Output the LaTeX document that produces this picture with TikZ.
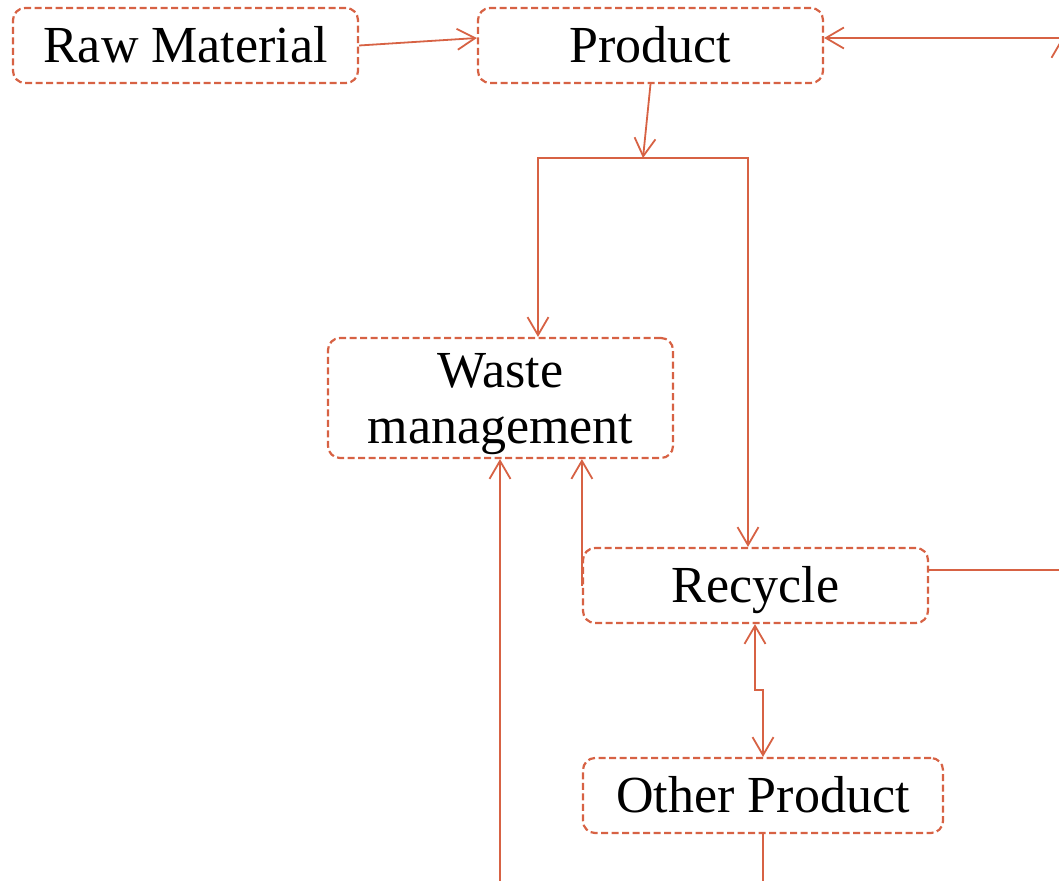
\documentclass[tikz,border=0pt]{standalone}
\usepackage{fontspec}
\setmainfont{Liberation Serif}
\usetikzlibrary{arrows.meta,calc}
\definecolor{flow}{RGB}{215,98,68}
\tikzset{
  stagebox/.style={draw=flow, line width=2.2pt, dash pattern=on 7pt off 3.5pt,
    rounded corners=12pt, inner sep=0pt, minimum height=75pt, minimum width=345pt,
    text height=34pt, text depth=0pt, font=\fontsize{52}{56}\selectfont},
  barb/.tip={Straight Barb[length=18pt,width=21pt,line width=1.8pt]},
  link/.style={draw=flow, line width=1.8pt, -barb},
  plain/.style={draw=flow, line width=1.8pt},
}
\begin{document}
\begin{tikzpicture}[x=1pt,y=-1pt]
  \useasboundingbox (0,0) rectangle (1059,880);
  \clip (0,0) rectangle (1059,880);

  % stages
  \node[stagebox] (raw)   at (185.5,45.5)  {Raw Material};
  \node[stagebox] (prod)  at (650.5,45.5)  {Product};
  \node[stagebox, minimum height=120pt, text height=34pt, text depth=56pt] (waste) at (500.5,398)
      {\vtop{\baselineskip=56pt\halign{\hfil#\hfil\cr Waste\cr management\cr}}};
  \node[stagebox] (rec)   at (755.5,585.5) {Recycle};
  \node[stagebox, minimum width=360pt] (other) at (763,795.5) {Other Product};

  % junction and points beyond the frame
  \coordinate (j)   at (643,158);
  \coordinate (k)   at (759,690);
  \coordinate (rt)  at (1062,38);
  \coordinate (rb)  at (1062,300);
  \coordinate (rr)  at (1100,570);
  \coordinate (wb)  at (500,920);
  \coordinate (ob)  at (763,920);

  % connectors
  \draw[link] (raw.east) -- ([yshift=7.5pt]prod.west);
  \draw[link] (prod.south) -- (j);
  \draw[link] (j) -| ([xshift=37.5pt]waste.north);
  \draw[link] (j) -| ([xshift=-7.5pt]rec.north);
  \draw[link] (rec.west) -- (rec.west |- waste.south);
  \draw[link] (wb) -- (wb |- waste.south);
  \draw[link, barb-barb] ([xshift=-0.5pt]rec.south) |- (k) -| (other.north);
  \draw[plain] (other.south) -- (ob);
  \draw[plain] ([yshift=15.5pt]rec.east) -- (rr);
  \draw[link] (rt) -- ([yshift=7.5pt]prod.east);
  \draw[link] (rb) -- (rt);
\end{tikzpicture}
\end{document}
